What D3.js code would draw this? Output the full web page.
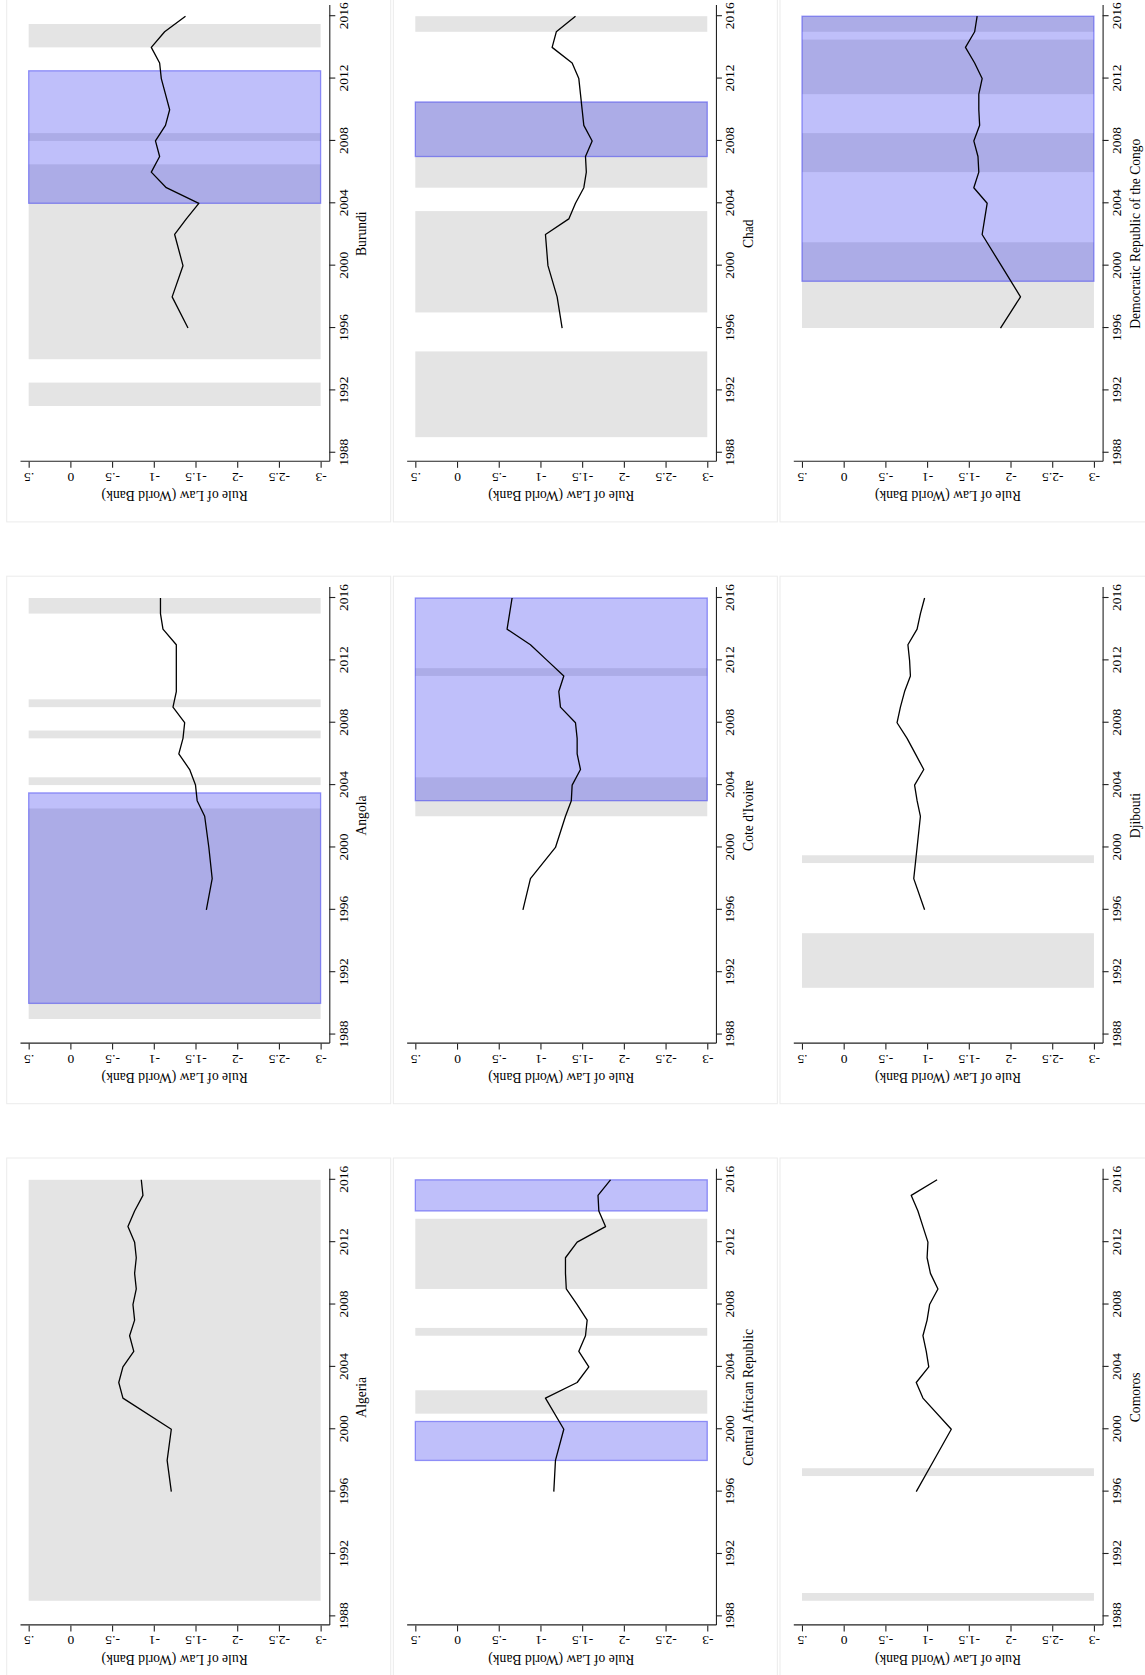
<!DOCTYPE html>
<html>
<head>
<meta charset="utf-8">
<script src="https://cdn.jsdelivr.net/npm/d3@7"></script>
<style>
  body { margin: 0; background: #fff; }
  svg { display: block; }
</style>
</head>
<body>
<svg id="chart" width="1145" height="1675"></svg>
<script>
// ---- data -------------------------------------------------------------
const countries = [
  "Algeria", "Angola", "Burundi",
  "Central African Republic", "Cote d'Ivoire", "Chad",
  "Comoros", "Djibouti", "Democratic Republic of the Congo"
];

// World Bank Rule of Law estimates are published for these years
const years = [1996, 1998, 2000, 2002, 2003, 2004, 2005, 2006, 2007, 2008,
               2009, 2010, 2011, 2012, 2013, 2014, 2015, 2016];

const algeria     = [-1.21, -1.16, -1.21, -0.63, -0.58, -0.63, -0.76, -0.71, -0.77, -0.75, -0.79, -0.77, -0.79, -0.77, -0.69, -0.77, -0.87, -0.85];
const angola      = [-1.63, -1.70, -1.66, -1.61, -1.52, -1.50, -1.43, -1.30, -1.35, -1.37, -1.23, -1.27, -1.27, -1.27, -1.27, -1.11, -1.08, -1.08];
const burundi     = [-1.41, -1.22, -1.35, -1.25, -1.39, -1.54, -1.15, -0.97, -1.07, -1.02, -1.14, -1.19, -1.14, -1.09, -1.07, -0.97, -1.13, -1.38];
const car         = [-1.16, -1.18, -1.28, -1.06, -1.44, -1.58, -1.46, -1.54, -1.56, -1.44, -1.31, -1.30, -1.30, -1.44, -1.78, -1.70, -1.69, -1.84];
const coteDivoire = [-0.79, -0.88, -1.18, -1.30, -1.37, -1.38, -1.48, -1.44, -1.44, -1.42, -1.24, -1.22, -1.28, -1.08, -0.88, -0.60, -0.63, -0.66];
const chad        = [-1.26, -1.20, -1.09, -1.06, -1.34, -1.42, -1.52, -1.55, -1.54, -1.62, -1.52, -1.50, -1.48, -1.46, -1.38, -1.14, -1.19, -1.42];
const comoros     = [-0.87, -1.08, -1.29, -0.95, -0.87, -1.02, -0.99, -0.95, -1.00, -1.03, -1.13, -1.04, -1.00, -1.01, -0.95, -0.89, -0.81, -1.12];
const djibouti    = [-0.97, -0.84, -0.88, -0.92, -0.88, -0.85, -0.96, -0.86, -0.76, -0.64, -0.68, -0.73, -0.80, -0.79, -0.77, -0.88, -0.92, -0.97];
const drc         = [-1.88, -2.12, -1.89, -1.66, -1.69, -1.72, -1.56, -1.62, -1.61, -1.56, -1.63, -1.62, -1.62, -1.66, -1.57, -1.46, -1.57, -1.60];

// shaded periods [from, to] in years: grey and blue bands
const algeriaGray     = [[1989, 2016]];
const angolaGray      = [[1989, 2002.5], [2004, 2004.5], [2007, 2007.5], [2009, 2009.5], [2015, 2016]];
const burundiGray     = [[1991, 1992.5], [1994, 2006.5], [2008, 2008.5], [2014, 2015.5]];
const carGray         = [[2001, 2002.5], [2006, 2006.5], [2009, 2013.5]];
const coteDivoireGray = [[2002, 2004.5], [2011, 2011.5]];
const chadGray        = [[1989, 1994.5], [1997, 2003.5], [2005, 2010.5], [2015, 2016]];
const comorosGray     = [[1989, 1989.5], [1997, 1997.5]];
const djiboutiGray    = [[1991, 1994.5], [1999, 1999.5]];
const drcGray         = [[1996, 2001.5], [2006, 2008.5], [2011, 2014.5], [2015, 2016]];

const algeriaBlue     = [];
const angolaBlue      = [[1990, 2003.5]];
const burundiBlue     = [[2004, 2012.5]];
const carBlue         = [[1998, 2000.5], [2014, 2016]];
const coteDivoireBlue = [[2003, 2016]];
const chadBlue        = [[2007, 2010.5]];
const comorosBlue     = [];
const djiboutiBlue    = [];
const drcBlue         = [[1999, 2016]];

const yearTicks = [1988, 1992, 1996, 2000, 2004, 2008, 2012, 2016];
const valueTicks = [0.5, 0, -0.5, -1, -1.5, -2, -2.5, -3];
const valueTickLabels = [".5", "0", "-.5", "-1", "-1.5", "-2", "-2.5", "-3"];
const axisTitle = "Rule of Law (World Bank)";

const panels = [
  { name: countries[0], values: algeria,     gray: algeriaGray,     blue: algeriaBlue },
  { name: countries[1], values: angola,      gray: angolaGray,      blue: angolaBlue },
  { name: countries[2], values: burundi,     gray: burundiGray,     blue: burundiBlue },
  { name: countries[3], values: car,         gray: carGray,         blue: carBlue },
  { name: countries[4], values: coteDivoire, gray: coteDivoireGray, blue: coteDivoireBlue },
  { name: countries[5], values: chad,        gray: chadGray,        blue: chadBlue },
  { name: countries[6], values: comoros,     gray: comorosGray,     blue: comorosBlue },
  { name: countries[7], values: djibouti,    gray: djiboutiGray,    blue: djiboutiBlue },
  { name: countries[8], values: drc,         gray: drcGray,         blue: drcBlue }
];

// ---- layout -----------------------------------------------------------
// The figure is laid out as a 3x3 grid in landscape and then turned
// a quarter turn counter-clockwise onto the portrait page.
const PAGE_H = 1675;
const FONT = "'Liberation Serif', 'Times New Roman', Times, serif";
const colStep = 581.8, rowStep = 386.65;
const yearDomain = [1987.42, 2016.68];
const valueDomain = [0.604, -3.104];
const plotW = 456.2;               // year direction
const plotTop = 20, plotH = 309.3; // value direction
const TICK_FS = 13.5, TITLE_FS = 13.6;

const svg = d3.select("#chart");
svg.append("rect").attr("width", 1145).attr("height", PAGE_H).attr("fill", "#fff");

const root = svg.append("g")
  .attr("transform", `translate(0,${PAGE_H}) rotate(-90)`);

const tickFmt = d => valueTickLabels[valueTicks.indexOf(d)];

panels.forEach((p, i) => {
  const r = Math.floor(i / 3), c = i % 3;
  const left = 49.6 + c * colStep;
  const top = plotTop + r * rowStep;

  const x = d3.scaleLinear().domain(yearDomain).range([left, left + plotW]);
  const y = d3.scaleLinear().domain(valueDomain).range([top, top + plotH]);

  const g = root.append("g").attr("class", "panel");

  // faint panel frame
  g.append("rect")
    .attr("x", left - 60.1).attr("y", top - 13.3)
    .attr("width", 527.5).attr("height", 384)
    .attr("fill", "none").attr("stroke", "#ebebeb").attr("stroke-width", 1);

  const bandY = y(0.5), bandH = y(-3) - y(0.5);

  g.selectAll("rect.gray").data(p.gray).join("rect")
    .attr("class", "gray")
    .attr("x", d => x(d[0])).attr("width", d => x(d[1]) - x(d[0]))
    .attr("y", bandY).attr("height", bandH)
    .attr("fill", "#e4e4e4");

  g.selectAll("rect.blue").data(p.blue).join("rect")
    .attr("class", "blue")
    .attr("x", d => x(d[0])).attr("width", d => x(d[1]) - x(d[0]))
    .attr("y", bandY).attr("height", bandH)
    .attr("fill", "rgb(50,50,240)").attr("fill-opacity", 0.31)
    .attr("stroke", "rgb(40,40,240)").attr("stroke-opacity", 0.45)
    .attr("stroke-width", 1.3);

  const line = d3.line()
    .x((d, k) => x(years[k]))
    .y(d => y(d));

  g.append("path")
    .datum(p.values)
    .attr("d", line)
    .attr("fill", "none")
    .attr("stroke", "#000")
    .attr("stroke-width", 1.3)
    .attr("stroke-linejoin", "round");

  // year axis
  const xAxis = g.append("g")
    .attr("transform", `translate(0,${top + plotH})`)
    .call(d3.axisBottom(x).tickValues(yearTicks).tickFormat(d3.format("d"))
      .tickSize(6).tickSizeOuter(0));
  xAxis.select(".domain").attr("stroke", "#222").attr("stroke-width", 1.1);
  xAxis.selectAll(".tick line").attr("stroke", "#222").attr("stroke-width", 1.1);
  xAxis.selectAll(".tick text")
    .attr("y", 18.5).attr("dy", 0)
    .attr("font-family", FONT).attr("font-size", TICK_FS).attr("fill", "#000");

  // value axis
  const yAxis = g.append("g")
    .attr("transform", `translate(${left},0)`)
    .call(d3.axisLeft(y).tickValues(valueTicks).tickFormat(tickFmt)
      .tickSize(6).tickSizeOuter(0));
  yAxis.select(".domain").attr("stroke", "#222").attr("stroke-width", 1.1);
  yAxis.selectAll(".tick line").attr("stroke", "#222").attr("stroke-width", 1.1);
  yAxis.selectAll(".tick text")
    .attr("x", 0).attr("y", 0).attr("dy", 0)
    .attr("text-anchor", "middle")
    .attr("transform", "translate(-11,0) rotate(-90)")
    .attr("font-family", FONT).attr("font-size", TICK_FS).attr("fill", "#000");

  // axis title
  g.append("text")
    .attr("transform", `translate(${left - 29.6},${y(-1.25)}) rotate(-90)`)
    .attr("text-anchor", "middle")
    .attr("font-family", FONT).attr("font-size", TITLE_FS)
    .text(axisTitle);

  // country label under the year axis
  g.append("text")
    .attr("x", x((yearDomain[0] + yearDomain[1]) / 2))
    .attr("y", top + plotH + 37)
    .attr("text-anchor", "middle")
    .attr("font-family", FONT).attr("font-size", TITLE_FS)
    .text(p.name);
});
</script>
</body>
</html>
